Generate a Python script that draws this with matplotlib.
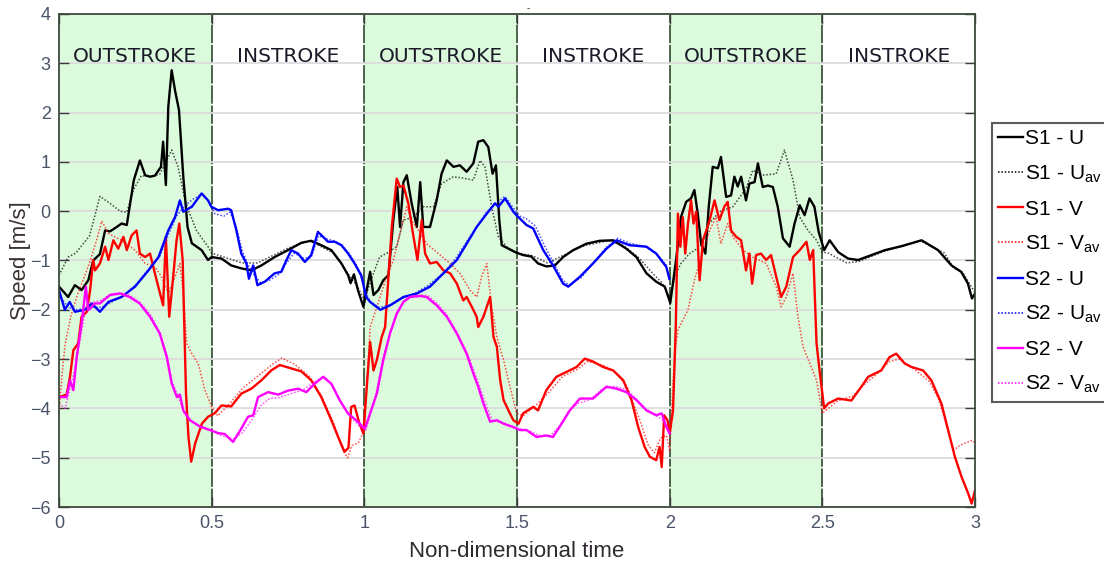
import matplotlib

matplotlib.use("Agg")

import matplotlib.pyplot as plt

FONT = ["Liberation Sans Narrow", "Liberation Sans", "DejaVu Sans"]
plt.rcParams["font.family"] = FONT
plt.rcParams["mathtext.fontset"] = "custom"
plt.rcParams["mathtext.rm"] = "Liberation Sans"
plt.rcParams["mathtext.default"] = "rm"

# ---- data (non-dimensional time, speed m/s) ----
s1u_t = [0, 0.03, 0.052, 0.074, 0.096, 0.112, 0.134, 0.151, 0.167, 0.189, 0.205, 0.222,
         0.238, 0.245, 0.265, 0.282, 0.298, 0.314, 0.334, 0.341, 0.35, 0.358, 0.369, 0.38,
         0.393, 0.407, 0.421, 0.435, 0.467, 0.488, 0.5, 0.532, 0.564, 0.597, 0.63, 0.663,
         0.706, 0.75, 0.794, 0.826, 0.859, 0.892, 0.925, 0.947, 0.955, 0.966, 0.979, 0.997,
         1.019, 1.03, 1.046, 1.062, 1.079, 1.095, 1.108, 1.117, 1.128, 1.139, 1.155, 1.172,
         1.183, 1.193, 1.215, 1.237, 1.253, 1.27, 1.292, 1.313, 1.335, 1.357, 1.373, 1.39,
         1.406, 1.42, 1.431, 1.442, 1.45, 1.472, 1.494, 1.52, 1.547, 1.569, 1.596, 1.624,
         1.651, 1.684, 1.727, 1.771, 1.815, 1.858, 1.891, 1.924, 1.956, 1.984, 2.002, 2.021,
         2.037, 2.054, 2.07, 2.081, 2.092, 2.103, 2.117, 2.128, 2.141, 2.158, 2.168, 2.185,
         2.201, 2.212, 2.223, 2.234, 2.25, 2.261, 2.278, 2.289, 2.305, 2.322, 2.338, 2.354,
         2.371, 2.393, 2.409, 2.426, 2.442, 2.458, 2.474, 2.488, 2.506, 2.524, 2.552, 2.584,
         2.617, 2.661, 2.705, 2.759, 2.825, 2.879, 2.923, 2.955, 2.977, 2.99, 3.0]
s1u = [-1.53, -1.74, -1.5, -1.6, -1.4, -1.0, -0.87, -0.39, -0.41, -0.32, -0.25, -0.28,
       0.36, 0.63, 1.03, 0.73, 0.7, 0.72, 0.9, 1.41, 0.53, 2.12, 2.86, 2.45,
       2.05, 0.7, -0.32, -0.65, -0.79, -0.99, -0.93, -0.96, -1.1, -1.16, -1.2, -1.1,
       -0.93, -0.79, -0.64, -0.6, -0.69, -0.79, -1.06, -1.3, -1.46, -1.28, -1.6, -1.94,
       -1.23, -1.7, -1.6, -1.4, -1.3, -0.18, 0.49, -0.32, 0.59, 0.73, 0.16, -0.32,
       0.59, -0.32, -0.32, 0.22, 0.76, 1.03, 0.9, 0.93, 0.8, 0.97, 1.41, 1.44,
       1.3, 0.76, 0.93, -0.18, -0.69, -0.76, -0.83, -0.89, -0.92, -1.06, -1.12, -1.1,
       -0.93, -0.79, -0.66, -0.6, -0.59, -0.76, -0.93, -1.26, -1.43, -1.53, -1.86, -0.99,
       -0.12, 0.19, 0.26, 0.43, -0.05, -0.66, -0.86, 0.09, 0.9, 0.87, 1.1, 0.29,
       0.32, 0.7, 0.5, 0.7, 0.22, 0.56, 0.59, 0.97, 0.49, 0.52, 0.49, 0.09,
       -0.55, -0.72, -0.25, 0.12, -0.08, 0.26, 0.09, -0.42, -0.79, -0.59, -0.83, -0.96,
       -0.99, -0.89, -0.79, -0.71, -0.59, -0.79, -1.1, -1.23, -1.47, -1.77, -1.67]

s1uav_t = [0, 0.03, 0.055, 0.1, 0.134, 0.167, 0.2, 0.222, 0.245, 0.27, 0.3, 0.33,
           0.369, 0.39, 0.41, 0.425, 0.45, 0.488, 0.5, 0.55, 0.6, 0.65, 0.7, 0.75,
           0.82, 0.9, 0.95, 0.975, 1.0, 1.03, 1.05, 1.08, 1.106, 1.128, 1.161, 1.193,
           1.226, 1.253, 1.292, 1.324, 1.357, 1.379, 1.395, 1.417, 1.439, 1.466, 1.499,
           1.55, 1.6, 1.65, 1.72, 1.8, 1.85, 1.9, 1.95, 1.975, 2.0, 2.021, 2.037,
           2.065, 2.1, 2.13, 2.163, 2.207, 2.25, 2.272, 2.305, 2.349, 2.376, 2.404,
           2.426, 2.453, 2.481, 2.5, 2.52, 2.58, 2.62, 2.7, 2.82, 2.9, 2.93, 2.96, 3.0]
s1uav = [-1.3, -0.93, -0.85, -0.5, 0.3, 0.16, 0.0, -0.02, 0.45, 0.72, 0.7, 0.75,
         1.24, 0.9, 0.3, 0.0, -0.39, -0.72, -0.85, -0.95, -1.05, -1.05, -0.9, -0.75,
         -0.6, -0.85, -1.3, -1.5, -1.8, -1.26, -0.93, -0.83, -0.72, -0.18, -0.12, 0.09,
         0.09, 0.56, 0.7, 0.67, 0.63, 1.03, 0.9, 0.09, -0.52, -0.72, -0.85,
         -0.9, -1.05, -0.9, -0.7, -0.6, -0.7, -0.95, -1.3, -1.45, -1.75, -1.26, -1.06,
         -0.86, -0.72, -0.25, -0.01, 0.09, 0.46, 0.83, 0.73, 0.76, 1.24, 0.63,
         -0.12, -0.39, -0.59, -0.83, -0.85, -1.05, -1.02, -0.82, -0.6, -0.85, -1.15, -1.25, -1.65]

s1v_t = [0, 0.025, 0.036, 0.047, 0.063, 0.074, 0.091, 0.102, 0.112, 0.118, 0.134, 0.151,
         0.162, 0.178, 0.194, 0.211, 0.222, 0.238, 0.254, 0.265, 0.282, 0.298, 0.314,
         0.331, 0.341, 0.35, 0.361, 0.374, 0.385, 0.394, 0.405, 0.416, 0.424, 0.433,
         0.446, 0.468, 0.488, 0.51, 0.532, 0.564, 0.597, 0.63, 0.663, 0.695, 0.723,
         0.761, 0.794, 0.826, 0.859, 0.892, 0.919, 0.935, 0.948, 0.957, 0.968, 0.984,
         0.997, 1.008, 1.019, 1.03, 1.041, 1.057, 1.068, 1.079, 1.09, 1.106, 1.117, 1.128,
         1.144, 1.161, 1.174, 1.188, 1.199, 1.215, 1.237, 1.259, 1.281, 1.303, 1.324,
         1.335, 1.352, 1.368, 1.373, 1.39, 1.412, 1.423, 1.434, 1.445, 1.456, 1.472,
         1.488, 1.505, 1.52, 1.553, 1.569, 1.596, 1.629, 1.662, 1.695, 1.722, 1.749,
         1.782, 1.815, 1.848, 1.875, 1.897, 1.918, 1.935, 1.956, 1.967, 1.974, 1.982,
         1.993, 2.0, 2.011, 2.02, 2.027, 2.035, 2.043, 2.051, 2.06, 2.07, 2.078, 2.087,
         2.098, 2.109, 2.12, 2.131, 2.147, 2.163, 2.179, 2.19, 2.201, 2.218, 2.234,
         2.25, 2.261, 2.27, 2.283, 2.299, 2.316, 2.332, 2.349, 2.365, 2.382, 2.404,
         2.426, 2.448, 2.459, 2.47, 2.481, 2.492, 2.506, 2.519, 2.552, 2.595, 2.628,
         2.65, 2.693, 2.72, 2.742, 2.77, 2.792, 2.83, 2.857, 2.89, 2.912, 2.934, 2.956,
         2.978, 2.989, 3.0]
s1v = [-3.77, -3.72, -3.36, -2.82, -2.68, -2.14, -2.04, -1.6, -0.99, -1.2, -1.06, -0.72,
       -0.99, -0.59, -0.76, -0.52, -0.79, -0.49, -0.39, -0.86, -0.93, -0.86, -1.26,
       -1.67, -1.91, -0.52, -2.14, -1.33, -0.59, -0.25, -0.99, -3.7, -4.58, -5.08,
       -4.71, -4.31, -4.17, -4.1, -3.94, -3.96, -3.7, -3.6, -3.43, -3.23, -3.12,
       -3.19, -3.25, -3.43, -3.77, -4.24, -4.65, -4.88, -4.8, -3.97, -3.94, -4.31,
       -4.51, -3.56, -2.65, -3.23, -3.02, -2.55, -2.35, -1.33, -0.32, 0.66, 0.49, 0.52,
       0.16, -0.52, -0.99, -0.18, -0.86, -1.06, -1.03, -1.2, -1.26, -1.47, -1.81,
       -1.74, -1.94, -2.14, -2.35, -2.14, -1.74, -2.55, -2.75, -3.43, -3.83, -4.04,
       -4.24, -4.31, -4.1, -3.97, -4.04, -3.63, -3.36, -3.26, -3.16, -2.99, -3.05,
       -3.16, -3.23, -3.43, -3.83, -4.38, -4.78, -4.98, -5.05, -4.78, -5.19, -4.14,
       -4.24, -4.51, -4.04, -2.35, -0.05, -0.72, -0.12, -0.86, -0.25, 0.22, -0.25, -0.01,
       -1.4, -0.59, -0.39, -0.18, 0.22, -0.18, 0.09, 0.19, -0.39, -0.52, -0.59,
       -1.2, -0.86, -1.47, -0.89, -0.86, -0.99, -0.89, -1.33, -1.74, -1.53, -0.93,
       -0.79, -0.62, -0.99, -0.79, -2.68, -3.29, -4.0, -3.9, -3.8, -3.84, -3.56,
       -3.36, -3.23, -2.96, -2.89, -3.09, -3.16, -3.23, -3.43, -3.9, -4.44, -4.98, -5.39,
       -5.73, -5.93, -5.66]

s1vav_t = [0, 0.01, 0.02, 0.04, 0.06, 0.085, 0.105, 0.125, 0.14, 0.162, 0.205, 0.249,
           0.282, 0.314, 0.336, 0.358, 0.38, 0.396, 0.407, 0.418, 0.434, 0.456, 0.478,
           0.5, 0.52, 0.56, 0.6, 0.65, 0.7, 0.73, 0.77, 0.82, 0.86, 0.9, 0.93, 0.945,
           0.96, 0.98, 1.0, 1.019, 1.041, 1.073, 1.095, 1.117, 1.139, 1.155, 1.177, 1.204,
           1.237, 1.281, 1.313, 1.346, 1.368, 1.384, 1.401, 1.417, 1.434, 1.456, 1.477,
           1.499, 1.52, 1.56, 1.6, 1.65, 1.7, 1.73, 1.78, 1.82, 1.86, 1.9, 1.93, 1.95,
           1.97, 1.99, 2.0, 2.016, 2.027, 2.043, 2.06, 2.081, 2.103, 2.131, 2.152, 2.168,
           2.19, 2.207, 2.24, 2.272, 2.316, 2.349, 2.365, 2.382, 2.404, 2.42, 2.437,
           2.459, 2.481, 2.5, 2.52, 2.55, 2.6, 2.63, 2.67, 2.72, 2.75, 2.8, 2.85, 2.88,
           2.91, 2.93, 2.95, 2.97, 2.99, 3.0]
s1vav = [-4.1, -3.3, -2.7, -2.1, -1.7, -1.3, -0.95, -0.55, -0.2, -0.45, -0.59, -0.79,
         -1.06, -1.13, -1.33, -1.67, -1.33, -1.06, -1.67, -2.68, -2.88, -3.09, -3.63,
         -3.97, -4.15, -3.9, -3.6, -3.35, -3.1, -2.98, -3.1, -3.35, -3.75, -4.3, -4.85, -5.0,
         -4.75, -4.7, -4.45, -2.35, -1.94, -1.33, -0.99, -0.45, 0.09, -0.18, -0.39, -0.66,
         -0.83, -1.06, -1.26, -1.6, -1.74, -1.33, -1.06, -1.94, -2.55, -3.02, -3.56,
         -4.1, -4.15, -3.95, -3.7, -3.35, -3.2, -3.05, -3.12, -3.25, -3.55, -4.2, -4.75, -4.9,
         -4.6, -4.55, -4.85, -2.89, -2.41, -2.21, -2.0, -1.4, -0.93, -0.39, -0.12, -0.66,
         -0.25, -0.52, -0.79, -0.93, -1.06, -1.53, -1.94, -1.74, -1.26, -2.14, -2.75,
         -3.09, -3.43, -4.1, -4.0, -3.85, -3.75, -3.55, -3.35, -3.05, -3.0, -3.2, -3.45, -3.8,
         -4.4, -4.85, -4.75, -4.7, -4.65, -4.7]

s2u_t = [0, 0.019, 0.035, 0.052, 0.085, 0.107, 0.134, 0.162, 0.205, 0.249, 0.293, 0.326,
         0.358, 0.38, 0.396, 0.407, 0.435, 0.467, 0.488, 0.499, 0.521, 0.554, 0.564,
         0.581, 0.597, 0.614, 0.622, 0.636, 0.65, 0.674, 0.706, 0.728, 0.745, 0.761,
         0.783, 0.805, 0.826, 0.848, 0.865, 0.881, 0.903, 0.925, 0.947, 0.968, 0.99,
         1.006, 1.019, 1.052, 1.084, 1.128, 1.172, 1.215, 1.259, 1.303, 1.335, 1.368,
         1.401, 1.428, 1.439, 1.461, 1.488, 1.498, 1.531, 1.553, 1.586, 1.618, 1.651,
         1.668, 1.706, 1.749, 1.793, 1.826, 1.869, 1.924, 1.956, 1.989, 1.999]
s2u = [-1.6, -2.0, -1.84, -2.04, -2.0, -1.87, -2.04, -1.84, -1.74, -1.53, -1.2, -0.93,
       -0.39, -0.12, 0.22, -0.01, 0.09, 0.36, 0.22, 0.09, 0.02, 0.05, 0.02,
       -0.39, -0.86, -1.06, -1.37, -1.1, -1.5, -1.43, -1.26, -1.23, -0.99, -0.79,
       -0.86, -1.03, -0.89, -0.42, -0.52, -0.62, -0.62, -0.69, -0.86, -1.06, -1.3,
       -1.74, -1.84, -2.0, -1.91, -1.74, -1.67, -1.53, -1.26, -0.99, -0.66, -0.32,
       -0.05, 0.16, 0.09, 0.26, -0.01, -0.08, -0.28, -0.35, -0.79, -1.1, -1.47,
       -1.53, -1.33, -1.06, -0.76, -0.59, -0.69, -0.72, -0.86, -1.13, -1.37]

s2uav_t = [0, 0.03, 0.06, 0.1, 0.14, 0.17, 0.21, 0.25, 0.29, 0.33, 0.36, 0.385, 0.41,
           0.44, 0.47, 0.49, 0.51, 0.54, 0.56, 0.58, 0.6, 0.62, 0.64, 0.66, 0.69, 0.72,
           0.745, 0.77, 0.8, 0.825, 0.85, 0.87, 0.9, 0.925, 0.95, 0.97, 0.99, 1.005,
           1.02, 1.05, 1.09, 1.13, 1.17, 1.21, 1.26, 1.3, 1.335, 1.37, 1.4, 1.43, 1.46,
           1.49, 1.51, 1.53, 1.56, 1.59, 1.62, 1.65, 1.67, 1.71, 1.75, 1.79, 1.83, 1.87,
           1.92, 1.955, 1.99]
s2uav = [-1.7, -1.95, -2.0, -1.95, -1.95, -1.85, -1.72, -1.5, -1.2, -0.92, -0.45, -0.1,
         0.1, 0.25, 0.35, 0.2, -0.05, -0.1, -0.02, -0.3, -0.8, -1.1, -1.3, -1.45, -1.4,
         -1.28, -1.05, -0.85, -0.95, -0.95, -0.5, -0.55, -0.6, -0.68, -0.85, -1.05, -1.35,
         -1.65, -1.85, -1.95, -1.9, -1.75, -1.65, -1.5, -1.25, -0.95, -0.62, -0.3, -0.02,
         0.15, 0.3, 0.05, -0.1, -0.15, -0.3, -0.7, -1.05, -1.4, -1.5, -1.35, -1.05, -0.75,
         -0.55, -0.65, -0.72, -0.85, -1.1]

s2v_t = [0, 0.025, 0.036, 0.047, 0.058, 0.074, 0.088, 0.096, 0.118, 0.134, 0.167, 0.2,
         0.231, 0.264, 0.298, 0.33, 0.353, 0.369, 0.386, 0.396, 0.407, 0.429, 0.462,
         0.495, 0.521, 0.543, 0.57, 0.597, 0.619, 0.636, 0.652, 0.685, 0.718, 0.75,
         0.783, 0.81, 0.837, 0.865, 0.892, 0.919, 0.946, 0.973, 0.99, 1.002, 1.019,
         1.041, 1.062, 1.084, 1.106, 1.128, 1.15, 1.183, 1.204, 1.237, 1.27, 1.303,
         1.335, 1.357, 1.373, 1.39, 1.412, 1.434, 1.456, 1.488, 1.51, 1.531, 1.564,
         1.596, 1.618, 1.646, 1.673, 1.706, 1.749, 1.793, 1.826, 1.858, 1.891, 1.924,
         1.956, 1.974, 1.989, 2.0]
s2v = [-3.77, -3.77, -3.43, -3.63, -2.96, -2.28, -1.53, -2.01, -1.87, -1.87, -1.7, -1.67,
       -1.74, -1.87, -2.14, -2.48, -2.96, -3.49, -3.77, -3.72, -4.04, -4.24, -4.37,
       -4.44, -4.5, -4.52, -4.68, -4.41, -4.17, -4.14, -3.77, -3.67, -3.72, -3.64,
       -3.6, -3.67, -3.5, -3.36, -3.5, -3.83, -4.1, -4.24, -4.34, -4.41, -4.1,
       -3.7, -3.02, -2.48, -2.08, -1.84, -1.74, -1.72, -1.74, -1.91, -2.14, -2.48,
       -2.89, -3.29, -3.56, -3.9, -4.27, -4.24, -4.31, -4.38, -4.44, -4.44, -4.58,
       -4.55, -4.58, -4.31, -4.04, -3.8, -3.8, -3.56, -3.6, -3.67, -3.83, -4.04,
       -4.14, -4.1, -4.38, -4.51]

s2vav_t = [0, 0.02, 0.04, 0.055, 0.075, 0.09, 0.11, 0.14, 0.17, 0.2, 0.23, 0.265, 0.3,
           0.33, 0.355, 0.37, 0.39, 0.41, 0.43, 0.46, 0.5, 0.53, 0.57, 0.6, 0.63, 0.66,
           0.69, 0.72, 0.76, 0.8, 0.84, 0.87, 0.9, 0.93, 0.96, 0.99, 1.005, 1.02, 1.04,
           1.06, 1.085, 1.11, 1.13, 1.15, 1.19, 1.21, 1.24, 1.27, 1.3, 1.335, 1.36, 1.38,
           1.4, 1.42, 1.46, 1.5, 1.54, 1.57, 1.61, 1.64, 1.67, 1.7, 1.74, 1.78, 1.82,
           1.86, 1.89, 1.92, 1.95, 1.98, 2.0]
s2vav = [-3.9, -4.0, -3.5, -3.1, -2.4, -1.9, -1.85, -1.8, -1.68, -1.65, -1.7, -1.85, -2.1,
         -2.45, -2.95, -3.45, -3.75, -4.1, -4.25, -4.35, -4.45, -4.55, -4.62, -4.5, -4.25,
         -3.95, -3.8, -3.78, -3.7, -3.62, -3.45, -3.35, -3.58, -3.95, -4.2, -4.4, -4.45,
         -4.1, -3.65, -3.0, -2.45, -2.05, -1.82, -1.72, -1.7, -1.72, -1.88, -2.1, -2.42,
         -2.85, -3.25, -3.6, -3.95, -4.25, -4.3, -4.4, -4.45, -4.55, -4.55, -4.35, -4.05,
         -3.9, -3.82, -3.6, -3.55, -3.62, -3.8, -4.0, -4.12, -4.25, -4.5]

legend_labels = ["S1 - U", "S1 - U$_{av}$", "S1 - V", "S1 - V$_{av}$",
                 "S2 - U", "S2 - U$_{av}$", "S2 - V", "S2 - V$_{av}$"]
series = [(s1u_t, s1u), (s1uav_t, s1uav), (s1v_t, s1v), (s1vav_t, s1vav),
          (s2u_t, s2u), (s2uav_t, s2uav), (s2v_t, s2v), (s2vav_t, s2vav)]
colors = ["#000000", "#000000", "#ff0000", "#ff0000",
          "#0000ff", "#0000ff", "#ff00ff", "#ff00ff"]

outstroke = [(0, 0.5), (1, 1.5), (2, 2.5)]
phase_names = ["OUTSTROKE", "INSTROKE"] * 3
phase_centres = [0.25, 0.75, 1.25, 1.75, 2.25, 2.75]

fig = plt.figure(figsize=(11.04, 5.67), dpi=100)
ax = fig.add_axes([59 / 1104, 1 - 507 / 567, 916 / 1104, 493 / 567])

for a, b in outstroke:
    ax.axvspan(a, b, color="#dcfadc", zorder=0.1, lw=0)
ax.yaxis.grid(True, color="#dcdcdc", lw=1.3, zorder=0.5)
for xv in [0.5, 1, 1.5, 2, 2.5]:
    ax.axvline(xv, color="#1f3a1f", lw=1.1, ls=(0, (12, 1.2)), zorder=0.8)

for (t, v), c, lab in zip(series, colors, legend_labels):
    if "av" in lab:
        ax.plot(t, v, color=c, lw=1.1, ls=(0, (1, 1.2)), alpha=0.7, label=lab, zorder=2)
    else:
        ax.plot(t, v, color=c, lw=1.7, label=lab, zorder=2)

for x, name in zip(phase_centres, phase_names):
    ax.text(x, 3.14, name, ha="center", va="center", fontsize=14.5,
            family="DejaVu Sans", color="#1a1a28", zorder=3)

ax.set_xlim(0, 3)
ax.set_ylim(-6, 4)
ax.set_xticks([0, 0.5, 1, 1.5, 2, 2.5, 3])
ax.set_xticklabels(["0", "0.5", "1", "1.5", "2", "2.5", "3"])
ax.set_yticks(range(-6, 5))
ax.tick_params(direction="in", length=7, width=1, top=True, right=True,
               labelsize=13, labelcolor="#4a5468", color="#3a3a3a", pad=6)
for sp in ax.spines.values():
    sp.set_color("#3d4a3d")
    sp.set_linewidth(1.3)

ax.set_xlabel("Non-dimensional time", fontsize=16, color="#2e2a30")
ax.xaxis.set_label_coords(0.5, -0.069)
ax.set_ylabel("Speed [m/s]", fontsize=16, color="#3a3230")
ax.yaxis.set_label_coords(-0.031, 0.5)

fig.text(528 / 1104, 1 - 8 / 567, "-", fontsize=7, color="#333333", ha="center", va="center")

leg = ax.legend(loc="upper left", bbox_to_anchor=(992 / 1104, 1 - 123 / 567),
                bbox_transform=fig.transFigure, borderaxespad=0, fontsize=15,
                frameon=True, fancybox=False, handlelength=1.2, handletextpad=0.1,
                labelspacing=0.72, borderpad=0.3)
leg.get_frame().set_edgecolor("#333333")
leg.get_frame().set_linewidth(1.5)
for line in leg.get_lines():
    line.set_alpha(1)

fig.savefig("out.png", dpi=100)
